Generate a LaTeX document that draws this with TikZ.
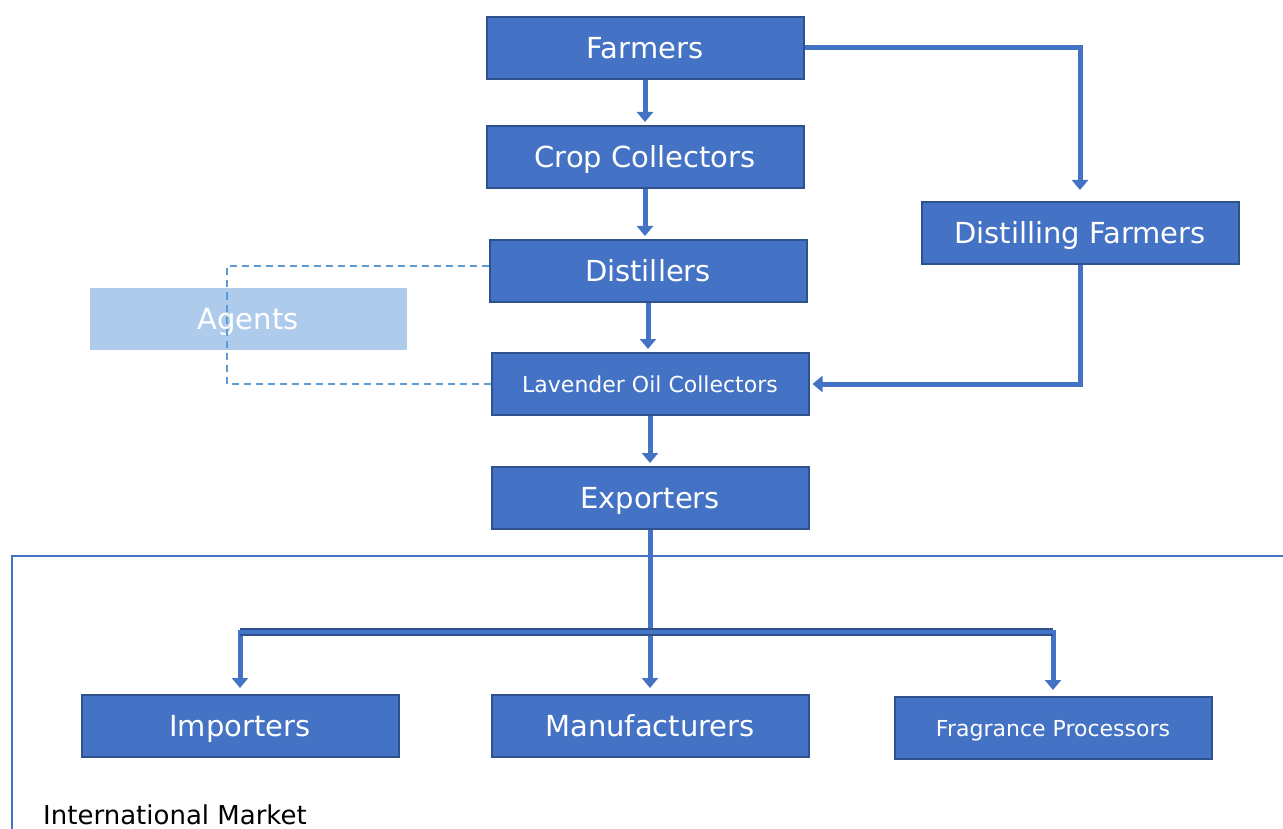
\documentclass[tikz,border=0pt]{standalone}
\usepackage{fontspec}
\setmainfont{DejaVu Sans}
\usetikzlibrary{arrows.meta,positioning}

\definecolor{boxblue}{HTML}{4472C4}
\definecolor{boxedge}{HTML}{2F528F}
\definecolor{agentblue}{HTML}{AECBEB}
\definecolor{dashblue}{HTML}{5B9BD5}

\tikzset{
	box/.style={draw=boxedge, line width=2pt, fill=boxblue, text=white,
		minimum width=317pt, minimum height=62pt, inner sep=0pt,
		text height=21pt, text depth=0pt,
		font=\fontsize{29}{34}\selectfont},
	smalltext/.style={font=\fontsize{22}{26}\selectfont, text height=16pt},
	flow/.style={draw=boxblue, line width=5pt,
		-{Triangle[width=16pt,length=10pt]}, shorten >=3pt},
	link/.style={draw=boxblue, line width=5pt},
	agentlink/.style={draw=dashblue, line width=1.6pt, dash pattern=on 7pt off 5pt}
}

\begin{document}
\begin{tikzpicture}[x=1pt, y=-1pt, node distance=45pt]
	\useasboundingbox (0,0) rectangle (1283,829);

	% market frame
	\draw[boxblue, line width=1.5pt] (12,840) -- (12,556) -- (1290,556);
	\node[anchor=base west, inner sep=0pt, font=\fontsize{26}{31}\selectfont] (mkt) at (43,824) {International Market};

	% main chain
	\node[box] (farm) at (645,48) {Farmers};
	\node[box] (crop) [below=of farm] {Crop Collectors};
	\node[box] (dist) [below=50pt of crop, xshift=3pt] {Distillers};
	\node[box, smalltext] (loc) [below=49pt of dist, xshift=2pt] {Lavender Oil Collectors};
	\node[box] (exp) [below=50pt of loc] {Exporters};

	\node[box] (dfarm) at (1080,233) {Distilling Farmers};
	\node[box, draw=none, fill=agentblue] (ag) at (248,319) {Agents};

	% buyers
	\node[box] (imp) at (240,726) {Importers};
	\node[box] (man) at (650,726) {Manufacturers};
	\node[box, smalltext] (frag) at (1053,728) {Fragrance Processors};

	\draw[flow] (farm.south) -- (farm.south |- crop.north);
	\draw[flow] (crop.south) -- (crop.south |- dist.north);
	\draw[flow] (dist.south) -- (dist.south |- loc.north);
	\draw[flow] (loc.south) -- (loc.south |- exp.north);

	\draw[flow, shorten >=11pt] (farm.east) -| (dfarm.north);
	\draw[flow] (dfarm.south) |- (loc.east);

	% split to the buyers
	\coordinate (bar) at (exp.south |- 0,632);
	\draw[link] (exp.south) -- (bar);
	\draw[flow, shorten >=6pt] (bar) -| (imp.north);
	\draw[flow, shorten >=6pt] (bar) -- (bar |- man.north);
	\draw[flow, shorten >=6pt] (bar) -| (frag.north);
	\draw[boxedge, line width=8pt] (imp.north |- bar) -- (frag.north |- bar);
	\draw[boxblue, line width=4pt] (imp.north |- bar) -- (frag.north |- bar);

	% agents reach both distillers and oil collectors
	\coordinate (agx) at (227,0);
	\draw[agentlink] ([yshift=5pt]dist.west) -- ([yshift=5pt]dist.west -| agx) |- (loc.west);
\end{tikzpicture}
\end{document}
